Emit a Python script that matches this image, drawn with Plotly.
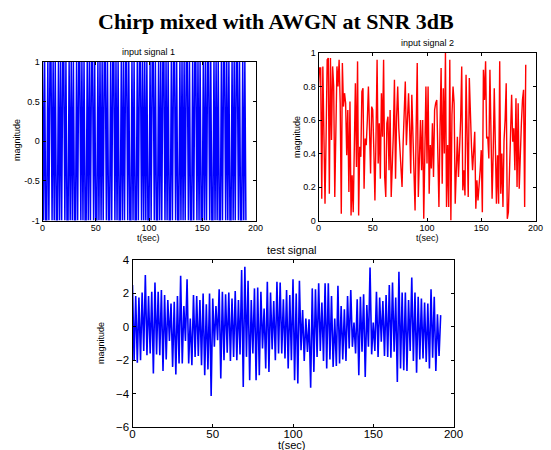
import plotly.graph_objects as go

# input signal 1: sampled chirp, hard-limited to +/-1
signal1 = [1, -1, 1, -1, -1, 1, -1, 1, 1, -1, 1, -1, 1, -1, -1, 1, -1, 1, -1, 1,
           1, -1, 1, -1, -1, 1, -1, 1, -1, 1, -1, -1, 1, -1, 1, 1, -1, 1, -1, 1,
           -1, -1, 1, -1, 1, -1, 1, 1, -1, 1, -1, -1, 1, -1, 1, -1, 1, -1, 1, 1,
           -1, 1, -1, -1, 1, -1, 1, 1, -1, 1, -1, 1, -1, -1, 1, -1, 1, -1, 1, 1,
           -1, 1, -1, -1, 1, -1, 1, -1, -1, 1, -1, 1, 1, -1, 1, -1, 1, -1, 1, -1,
           -1, 1, -1, 1, 1, -1, 1, -1, -1, 1, -1, 1, -1, 1, 1, -1, 1, -1, 1, -1,
           -1, 1, -1, 1, 1, -1, 1, -1, -1, 1, -1, 1, -1, 1, -1, 1, 1, -1, 1, -1,
           -1, 1, -1, 1, 1, -1, 1, -1, 1, -1, -1, 1, -1, 1, -1, 1, 1, -1, 1, -1,
           -1, 1, -1, 1, -1, 1, -1, -1, 1, -1, 1, 1, -1, 1, -1, 1, -1, -1, 1, -1,
           1, -1, 1, 1, -1, 1, -1, -1, 1, -1, 1, -1]

# input signal 2: uniform noise samples in [0, 1]
signal2 = [0.80, 0.91, 0.91, 0.13, 0.92, 0.55, 0.10, 0.50, 0.96, 0.97,
           0.16, 0.97, 0.48, 0.92, 0.80, 0.14, 0.60, 0.92, 0.80, 0.96,
           0.70, 0.04, 0.94, 0.68, 0.76, 0.70, 0.39, 0.66, 0.17, 0.71,
           0.03, 0.27, 0.05, 0.40, 0.82, 0.32, 0.95, 0.03, 0.44, 0.38,
           0.77, 0.79, 0.19, 0.49, 0.45, 0.60, 0.80, 0.55, 0.28, 0.68,
           0.66, 0.42, 0.12, 0.50, 0.96, 0.34, 0.58, 0.25, 0.76, 0.50,
           0.96, 0.26, 0.14, 0.58, 0.62, 0.30, 0.66, 0.14, 0.30, 0.52,
           0.84, 0.25, 0.62, 0.80, 0.55, 0.40, 0.26, 0.20, 0.46, 0.62,
           0.83, 0.45, 0.60, 0.76, 0.56, 0.28, 0.75, 0.50, 0.38, 0.06,
           0.55, 0.94, 0.14, 0.40, 0.60, 0.30, 0.60, 0.01, 0.34, 0.80,
           0.34, 0.80, 0.16, 0.45, 0.31, 0.58, 0.26, 0.66, 0.70, 0.72,
           0.40, 0.08, 0.55, 0.91, 0.22, 0.79, 0.40, 1.00, 0.08, 0.45,
           0.08, 0.96, 0.00, 0.63, 0.80, 0.70, 0.10, 0.35, 0.50, 0.26,
           0.40, 0.60, 0.92, 0.18, 0.30, 0.15, 0.87, 0.45, 0.14, 0.85,
           0.57, 0.44, 0.30, 0.42, 0.53, 0.07, 0.24, 0.12, 0.20, 0.30,
           0.42, 0.05, 0.90, 0.72, 0.95, 0.49, 0.50, 0.37, 0.90, 0.56,
           0.13, 0.40, 0.79, 0.45, 0.10, 0.39, 0.10, 0.95, 0.16, 0.40,
           0.08, 0.48, 0.60, 0.82, 0.01, 0.05, 0.30, 0.55, 0.75, 0.47,
           0.55, 0.30, 0.73, 0.20, 0.70, 0.19, 0.45, 0.58, 0.72, 0.78,
           0.08, 0.93]

# test signal: chirp plus white Gaussian noise
test_signal = [2.5, -2.05, 1.85, -2.15, 1.75, -2.0, 2.05, -1.45, 3.1, -1.7,
               1.85, -1.6, 2.1, -2.8, 2.65, -1.65, 2.1, -1.7, 2.2, -2.65,
               1.9, -1.95, 1.6, -0.85, 1.4, -2.4, 1.5, -2.85, 1.85, -2.2,
               3.05, -2.2, 1.25, -0.85, 2.85, -2.2, 0.5, -2.3, 1.9, -1.8,
               1.85, -1.75, 1.6, -2.3, 2.0, -2.9, 1.35, -2.55, 2.0, -4.15,
               1.7, -1.2, 1.25, -0.8, 2.25, -3.1, 2.1, -2.0, 1.95, -1.55,
               2.05, -2.05, 1.7, -1.8, 2.15, -2.0, 1.6, -1.65, 3.4, -3.6,
               3.6, -1.8, 2.75, -3.2, 1.6, -1.6, 2.3, -3.2, 2.35, -2.9,
               2.1, -1.3, 1.1, -2.5, 2.7, -2.7, 2.05, -1.35, 1.55, -2.0,
               2.7, -1.6, 2.65, -1.6, 1.65, -1.9, 2.2, -2.5, 1.9, -2.0,
               2.85, -3.2, 2.0, -3.4, 2.75, -1.4, 1.0, -2.05, 0.5, -1.5,
               0.45, -3.65, 2.3, -2.7, 2.25, -1.8, 2.6, -1.45, 1.45, -2.05,
               2.6, -2.5, 2.6, -1.95, 1.85, -2.4, 0.5, -2.35, 2.45, -2.2,
               1.25, -1.95, 1.05, -2.05, 1.85, -1.3, 2.2, -1.2, 0.25, -1.6,
               1.65, -2.9, 1.8, -1.5, 1.95, -3.0, 1.3, -1.2, 3.55, -1.65,
               0.25, -1.45, 2.1, -1.8, 1.75, -0.9, 1.55, -1.75, 1.9, -1.8,
               2.5, -1.85, 2.65, -1.5, 1.75, -3.3, 3.3, -2.5, 2.05, -2.6,
               2.05, -2.65, 1.6, -1.45, 2.95, -2.05, 2.05, -2.75, 1.8, -1.95,
               1.7, -1.9, 1.45, -2.1, 1.4, -2.5, 2.25, -1.85, 1.8, -2.65,
               0.75, -1.75, 0.7]

t1 = list(range(len(signal1)))
t2 = list(range(len(signal2)))
t3 = list(range(len(test_signal)))

W, H = 551, 450


def px_x(a, b):
    return [a / W, b / W]


def px_y(top, bottom):
    return [1 - bottom / H, 1 - top / H]


fig = go.Figure()
fig.add_trace(go.Scatter(x=t1, y=signal1, mode="lines",
                         line=dict(color="#0000ff", width=1.5),
                         xaxis="x", yaxis="y", hoverinfo="skip"))
fig.add_trace(go.Scatter(x=t2, y=signal2, mode="lines",
                         line=dict(color="#ff0000", width=1.4),
                         xaxis="x2", yaxis="y2", hoverinfo="skip"))
fig.add_trace(go.Scatter(x=t3, y=test_signal, mode="lines",
                         line=dict(color="#0000ff", width=1.6),
                         xaxis="x3", yaxis="y3", hoverinfo="skip"))

small = dict(family="Liberation Sans, Arial, sans-serif", size=9, color="black")
large = dict(family="Liberation Sans, Arial, sans-serif", size=11.5, color="black")


def axis(domain, rng, dtick, anchor, font, standoff=0, tickvals=None, ticktext=None):
    d = dict(domain=domain, range=rng, anchor=anchor, automargin=False,
             showline=True, linecolor="black", linewidth=1, mirror="allticks",
             ticks="inside", ticklen=3, tickcolor="black",
             ticklabelstandoff=standoff,
             showgrid=False, zeroline=False, tickfont=font)
    if tickvals is not None:
        d.update(tickmode="array", tickvals=tickvals, ticktext=ticktext)
    else:
        d.update(tick0=rng[0], dtick=dtick)
    return d


fig.update_layout(
    width=W, height=H,
    margin=dict(l=0, r=0, t=0, b=0, pad=0),
    paper_bgcolor="white", plot_bgcolor="white",
    showlegend=False,
    xaxis=axis(px_x(42.5, 255.5), [0, 200], 50, "y", small, -1),
    yaxis=axis(px_y(62, 220.5), [-1, 1], 0.5, "x", small, 0,
               tickvals=[-1, -0.5, 0, 0.5, 1],
               ticktext=["-1", "-0.5", "0", "0.5", "1"]),
    xaxis2=axis(px_x(318.5, 535.5), [0, 200], 50, "y2", small, -1),
    yaxis2=axis(px_y(53, 220.5), [0, 1], 0.2, "x2", small, 0,
                tickvals=[0, 0.2, 0.4, 0.6, 0.8, 1],
                ticktext=["0", "0.2", "0.4", "0.6", "0.8", "1"]),
    xaxis3=axis(px_x(132.5, 453.5), [0, 200], 50, "y3", large, -4),
    yaxis3=axis(px_y(260, 427), [-6, 4], 2, "x3", large, 0),
)

notes = [
    ("Chirp mixed with AWGN at SNR 3dB", 276, 22, 0,
     dict(family="Liberation Serif, Times New Roman, serif", size=22, color="black"), True),
    ("input signal 1", 148, 52, 0, small, False),
    ("input signal 2", 427, 43, 0, small, False),
    ("t(sec)", 148, 238, 0, small, False),
    ("t(sec)", 427, 238, 0, small, False),
    ("magnitude", 17, 140, -90, small, False),
    ("magnitude", 297, 137, -90, small, False),
    ("test signal", 292, 250, 0, dict(large, size=11), False),
    ("t(sec)", 292, 445, 0, dict(large, size=11), False),
    ("magnitude", 101, 343, -90, small, False),
]
for text, x, y, ang, font, bold in notes:
    fig.add_annotation(text=f"<b>{text}</b>" if bold else text,
                       x=x / W, y=1 - y / H, xref="paper", yref="paper",
                       xanchor="center", yanchor="middle", showarrow=False,
                       borderpad=0, textangle=ang, font=font)

fig.write_html("out.html")
